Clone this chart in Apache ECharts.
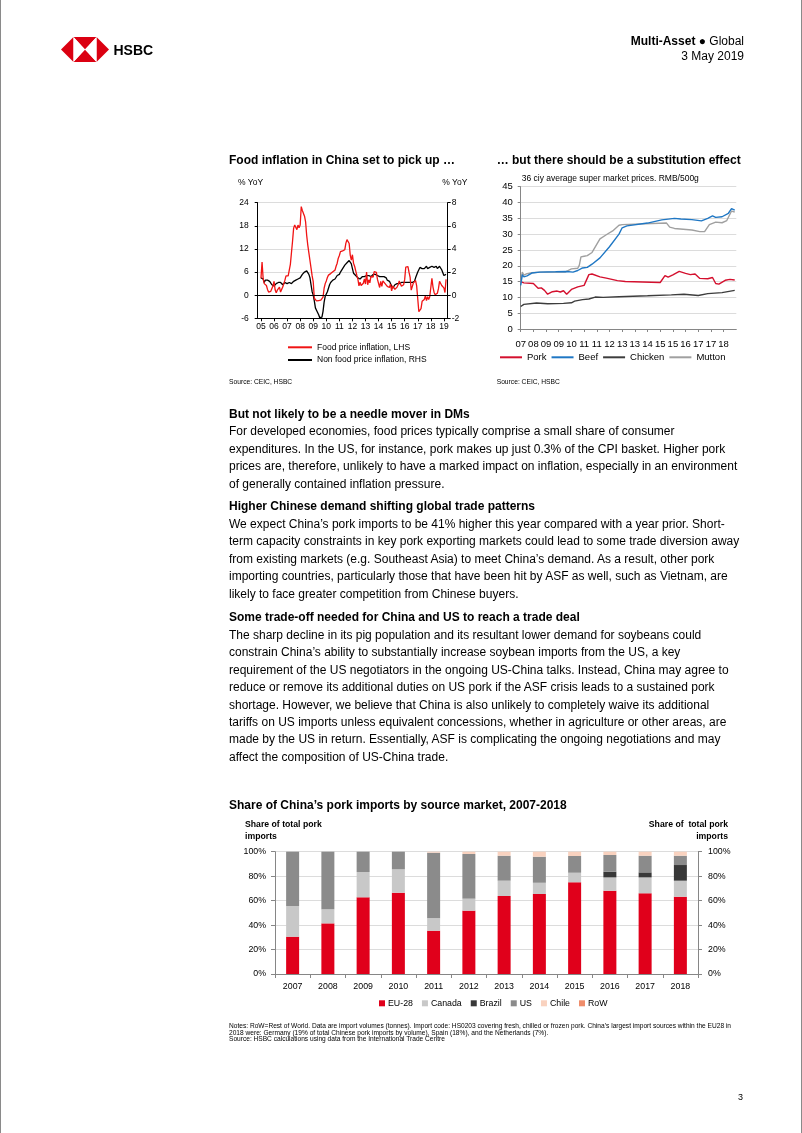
<!DOCTYPE html>
<html><head><meta charset="utf-8">
<script src="https://cdn.jsdelivr.net/npm/echarts@6/dist/echarts.min.js"></script>
<style>
html,body{margin:0;padding:0;background:#fff;}
#page{position:relative;width:802px;height:1133px;overflow:hidden;font-family:Arial,"Liberation Sans",Helvetica,sans-serif;color:#000;background:#fff;}
#chart{position:absolute;left:0;top:0;width:802px;height:1133px;z-index:1;}
.t{position:absolute;white-space:nowrap;z-index:2;}
.body{position:absolute;left:229px;font-size:12px;line-height:17.45px;white-space:nowrap;z-index:2;}
.body b{font-weight:bold;}
.edge{position:absolute;top:0;width:1px;height:1133px;background:#8a8a8a;z-index:3;}
</style></head>
<body>
<div id="page">
<div id="chart"></div>
<div class="edge" style="left:0"></div>
<div class="edge" style="left:801px"></div>
<svg class="t" style="left:60.5px;top:37px" width="48" height="25" viewBox="0 0 48 25">
  <polygon points="0,12.5 12.5,0 12.5,25" fill="#db0011"/>
  <polygon points="48,12.5 35.5,0 35.5,25" fill="#db0011"/>
  <polygon points="12.5,0 35.5,0 24,12.5" fill="#db0011"/>
  <polygon points="12.5,25 35.5,25 24,12.5" fill="#db0011"/>
  <polygon points="12.5,0 24,12.5 12.5,25" fill="#fff"/>
  <polygon points="35.5,0 24,12.5 35.5,25" fill="#fff"/>
</svg>
<div class="t" style="left:113.5px;top:42px;font-size:14px;line-height:16px;font-weight:bold;">HSBC</div>
<div class="t" style="right:58px;top:34px;font-size:12px;line-height:14px;text-align:right;"><b>Multi-Asset</b> ● Global</div>
<div class="t" style="right:58px;top:49px;font-size:12px;line-height:14px;text-align:right;">3 May 2019</div>

<div class="t" style="left:229px;top:153px;font-size:12px;line-height:14px;font-weight:bold;">Food inflation in China set to pick up …</div>
<div class="t" style="left:496.7px;top:153px;font-size:12px;line-height:14px;font-weight:bold;">… but there should be a substitution effect</div>
<div class="t" style="left:238px;top:176.7px;font-size:8.5px;line-height:10px;">% YoY</div>
<div class="t" style="left:442.3px;top:176.7px;font-size:8.5px;line-height:10px;">% YoY</div>
<div class="t" style="left:521.7px;top:173.3px;font-size:8.5px;line-height:10px;">36 ciy average super market prices. RMB/500g</div>
<div class="t" style="left:229px;top:377.7px;font-size:6.7px;line-height:8px;">Source: CEIC, HSBC</div>
<div class="t" style="left:496.7px;top:377.7px;font-size:6.7px;line-height:8px;">Source: CEIC, HSBC</div>

<div class="body" style="top:405.8px;">
<div><b>But not likely to be a needle mover in DMs</b></div>
<div>For developed economies, food prices typically comprise a small share of consumer</div>
<div>expenditures. In the US, for instance, pork makes up just 0.3% of the CPI basket. Higher pork</div>
<div>prices are, therefore, unlikely to have a marked impact on inflation, especially in an environment</div>
<div>of generally contained inflation pressure.</div>
</div>
<div class="body" style="top:498.3px;">
<div><b>Higher Chinese demand shifting global trade patterns</b></div>
<div>We expect China’s pork imports to be 41% higher this year compared with a year prior. Short-</div>
<div>term capacity constraints in key pork exporting markets could lead to some trade diversion away</div>
<div>from existing markets (e.g. Southeast Asia) to meet China’s demand. As a result, other pork</div>
<div>importing countries, particularly those that have been hit by ASF as well, such as Vietnam, are</div>
<div>likely to face greater competition from Chinese buyers.</div>
</div>
<div class="body" style="top:609.3px;">
<div><b>Some trade-off needed for China and US to reach a trade deal</b></div>
<div>The sharp decline in its pig population and its resultant lower demand for soybeans could</div>
<div>constrain China’s ability to substantially increase soybean imports from the US, a key</div>
<div>requirement of the US negotiators in the ongoing US-China talks. Instead, China may agree to</div>
<div>reduce or remove its additional duties on US pork if the ASF crisis leads to a sustained pork</div>
<div>shortage. However, we believe that China is also unlikely to completely waive its additional</div>
<div>tariffs on US imports unless equivalent concessions, whether in agriculture or other areas, are</div>
<div>made by the US in return. Essentially, ASF is complicating the ongoing negotiations and may</div>
<div>affect the composition of US-China trade.</div>
</div>

<div class="t" style="left:229px;top:798px;font-size:12px;line-height:14px;font-weight:bold;">Share of China’s pork imports by source market, 2007-2018</div>
<div class="t" style="left:245px;top:819.2px;font-size:8.7px;line-height:11.7px;font-weight:bold;">Share of total pork<br>imports</div>
<div class="t" style="right:74px;top:819.2px;font-size:8.7px;line-height:11.7px;font-weight:bold;text-align:right;white-space:pre;">Share of  total pork<br>imports</div>
<div class="t" style="left:229px;top:1023.4px;font-size:6.6px;line-height:6.4px;">Notes: RoW=Rest of World. Data are import volumes (tonnes). Import code: HS0203 covering fresh, chilled or frozen pork. China’s largest import sources within the EU28 in<br>2018 were: Germany (19% of total Chinese pork imports by volume), Spain (18%), and the Netherlands (7%).<br>Source: HSBC calculations using data from the International Trade Centre</div>
<div class="t" style="left:738px;top:1091.5px;font-size:9px;line-height:11px;">3</div>
</div>
<script>
// ---------- Chart 1: Food vs non-food inflation (monthly, Jan 2005 - Mar 2019) ----------
const inflationYearLabels = ['05','06','07','08','09','10','11','12','13','14','15','16','17','18','19'];
const foodInflation = [
  4.4, 8.6, 4.4, 3.0, 2.7, 2.5, 1.5, 0.8, 0.5, 1.0, 1.5, 2.4,
  3.6, 1.4, 0.6, 1.3, 1.6, 2.1, 0.8, 1.5, 2.1, 2.6, 3.9, 5.0,
  4.5, 5.0, 5.5, 8.0, 11.0, 14.0, 17.4, 18.2, 18.0, 17.0, 18.2, 17.5,
  18.2, 23.0, 22.0, 21.8, 20.5, 19.0, 15.5, 13.0, 11.0, 9.0, 7.0, 5.0,
  3.5, -0.8, -1.3, -1.5, -1.5, -1.4, -1.5, -1.3, -1.2, -0.5, 1.8, 3.0,
  3.7, 4.6, 5.2, 5.0, 5.6, 5.4, 6.1, 6.0, 6.5, 7.5, 8.3, 9.6,
  10.3, 11.3, 11.7, 11.5, 12.0, 11.8, 13.5, 14.4, 14.8, 13.4, 10.4, 9.1,
  10.5, 8.3, 7.5, 7.0, 5.2, 4.2, 2.4, 3.4, 2.5, 2.5, 3.1, 4.2,
  2.9, 6.0, 2.7, 4.0, 3.2, 4.9, 5.0, 4.7, 6.1, 6.5, 5.9, 4.1,
  3.7, 2.0, 3.6, 2.3, 3.7, 3.7, 3.0, 3.0, 2.3, 2.2, 2.0, 2.9,
  1.1, 2.4, 2.3, 1.5, 1.6, 2.1, 2.7, 3.7, 3.7, 2.3, 2.5, 2.7,
  4.1, 7.3, 7.6, 7.4, 5.9, 4.6, 1.3, 1.3, 3.2, 3.7, 3.8, 2.4,
  2.7, -4.3, -4.4, -3.5, -1.6, -1.2, -1.1, -0.2, -1.4, -0.4, -1.1, -0.4,
  0.0, 4.4, 2.1, 0.7, 0.1, 0.3, 0.5, 1.7, 3.6, 3.3, 2.5, 2.5,
  1.9, 0.7, 4.1
];
const nonFoodInflation = [
  1.5, 1.6, 1.4, 1.1, 1.3, 1.3, 1.3, 1.3, 1.2, 1.1, 0.9, 0.8,
  0.8, 0.9, 1.0, 1.0, 1.1, 1.0, 1.1, 1.0, 0.9, 1.0, 1.1, 1.0,
  1.0, 1.0, 1.1, 1.1, 1.0, 1.1, 1.2, 1.2, 1.3, 1.3, 1.4, 1.5,
  1.5, 1.6, 1.8, 1.9, 2.0, 2.1, 2.1, 2.0, 1.8, 1.5, 0.9, 0.3,
  0.0, -0.5, -1.1, -1.3, -1.5, -1.7, -1.95, -2.0, -1.9, -1.4, -0.6, -0.1,
  0.1, 0.3, 0.6, 0.9, 1.1, 1.2, 1.3, 1.3, 1.4, 1.5, 1.7, 1.7,
  1.8, 2.0, 2.1, 2.3, 2.4, 2.6, 2.7, 2.8, 2.9, 3.0, 2.9, 2.7,
  2.3, 1.9, 1.8, 1.7, 1.6, 1.5, 1.5, 1.4, 1.5, 1.6, 1.7, 1.6,
  1.6, 1.7, 1.8, 1.7, 1.6, 1.6, 1.7, 1.8, 1.8, 1.8, 1.7, 1.7,
  1.7, 1.6, 1.7, 1.6, 1.5, 1.6, 1.6, 1.5, 1.3, 1.3, 1.2, 1.1,
  0.8, 0.6, 0.7, 0.9, 0.9, 1.0, 1.0, 1.0, 1.1, 1.1, 1.0, 1.1,
  1.1, 1.1, 1.0, 1.1, 1.2, 1.1, 1.1, 1.1, 1.2, 1.2, 1.5, 1.6,
  2.0, 2.2, 2.4, 2.4, 2.3, 2.3, 2.3, 2.4, 2.5, 2.3, 2.4, 2.4,
  2.3, 2.5, 2.5, 2.4, 2.4, 2.5, 2.3, 2.4, 2.5, 2.4, 2.2, 2.2,
  1.7, 1.7, 1.8
];

// ---------- Chart 2: meat prices (x = months since Jan 2007) ----------
const meatTickLabels = ['07','08','09','09','10','11','11','12','13','13','14','15','15','16','17','17','18'];
const porkMonths = [8,10,16,19,21,23,25,26,28,31,33,35,37,38,40,44,48,49,51,53,58,62,69,74,96,99,101,104,108,112,115,118,121,126,129,131,133,137,140,143];
const porkPrice  = [15.0,14.6,14.4,12.9,13.0,12.2,11.0,10.7,11.8,12.0,11.7,12.1,11.0,10.8,12.5,13.3,13.8,14.3,17.2,17.4,16.5,16.1,15.3,15.0,14.7,16.9,16.4,17.1,18.2,17.6,17.2,17.4,16.0,15.9,16.3,14.4,14.2,15.4,15.7,15.5];
const beefMonths = [8,9,10,12,15,20,30,37,41,44,47,50,53,58,64,70,72,75,88,97,105,109,116,122,126,129,131,135,139,141,143];
const beefPrice  = [13.8,17.2,16.5,16.8,17.7,18.0,18.1,18.2,18.0,18.5,19.3,19.5,20.5,22.5,26.0,30.0,32.0,32.6,33.5,34.5,35.0,34.8,34.6,34.2,35.0,35.8,35.3,35.5,36.6,38.1,37.6];
const chickenMonths = [8,10,18,25,35,40,42,47,51,55,60,70,88,103,111,120,126,135,143];
const chickenPrice  = [7.1,7.8,8.2,8.0,8.1,8.3,8.8,9.3,9.5,10.1,10.0,10.2,10.5,10.8,11.0,10.6,11.2,11.5,12.2];
const muttonMonths = [8,9,10,12,15,20,36,37,40,44,45,46,48,50,53,58,62,66,70,72,100,102,105,116,121,124,127,131,135,138,141,143];
const muttonPrice  = [14.3,18.0,17.0,17.5,17.8,18.0,18.0,18.6,19.0,19.2,20.2,22.8,23.0,23.2,24.2,28.5,29.8,31.0,32.8,33.0,33.5,32.2,31.8,31.3,30.8,30.8,33.0,33.8,33.6,34.3,37.3,37.0];

// ---------- Chart 3: pork import shares ----------
const importYears = ['2007','2008','2009','2010','2011','2012','2013','2014','2015','2016','2017','2018'];
const shareEU28   = [30.5,41.4,62.7,66.5,35.4,51.8,63.8,65.4,75.0,68.1,66.0,63.2];
const shareCanada = [25.1,11.5,20.7,19.1,10.1,9.8,12.5,9.2,7.8,10.9,13.0,13.1];
const shareBrazil = [0,0,0,0,0,0,0,0,0,4.6,4.1,12.8];
const shareUS     = [44.4,47.1,16.6,14.4,53.7,36.5,20.4,21.3,13.7,13.7,13.6,7.6];
const shareChile  = [0,0,0,0,0.8,1.9,3.3,4.1,3.5,2.7,3.3,3.3];
const shareRoW    = [0,0,0,0,0,0,0,0,0,0,0,0];
const percentTicks = [0,20,40,60,80,100];

const pair = (xs, ys) => xs.map((x, i) => [x, ys[i]]);
const FONT = 'Arial, "Liberation Sans", sans-serif';
const txt = (size) => ({ fontSize: size, color: '#000', fontFamily: FONT });

const chart = echarts.init(document.getElementById('chart'), null, { renderer: 'canvas' });
const yearTicks = inflationYearLabels.map((_, i) => i * 12);
const meatTicks = meatTickLabels.map((_, i) => 8 + i * 8);

const option = {
  animation: false,
  backgroundColor: 'transparent',
  grid: [
    { left: 257.7, top: 202.7, width: 190, height: 115.6 },
    { left: 520.7, top: 186.7, width: 215.6, height: 142.3 },
    { left: 275, top: 851.7, width: 423, height: 122.3 }
  ],
  xAxis: [
    { type: 'value', gridIndex: 0, min: -3, max: 171.5,
      axisLine: { show: true, onZero: false, lineStyle: { color: '#000', width: 1 } },
      axisTick: { show: true, customValues: yearTicks, length: 3, lineStyle: { color: '#000' } },
      axisLabel: { customValues: yearTicks, margin: 4, ...txt(8.5), formatter: v => inflationYearLabels[Math.round(v / 12)] },
      splitLine: { show: false } },
    { type: 'value', gridIndex: 1, min: 8, max: 144,
      axisLine: { show: true, onZero: false, lineStyle: { color: '#868686', width: 1 } },
      axisTick: { show: true, customValues: meatTicks, length: 3, lineStyle: { color: '#868686' } },
      axisLabel: { customValues: meatTicks, margin: 10, ...txt(9.5), formatter: v => meatTickLabels[Math.round((v - 8) / 8)] },
      splitLine: { show: false } },
    { type: 'category', gridIndex: 2, data: importYears, boundaryGap: true,
      axisLine: { show: true, lineStyle: { color: '#868686', width: 1 } },
      axisTick: { show: true, alignWithLabel: false, length: 4, lineStyle: { color: '#868686' } },
      axisLabel: { margin: 8, ...txt(8.8), interval: 0 } }
  ],
  yAxis: [
    { type: 'value', gridIndex: 0, min: -6, max: 24, interval: 6, position: 'left',
      axisLine: { show: true, onZero: false, lineStyle: { color: '#000', width: 1 } },
      axisTick: { show: true, length: 3, lineStyle: { color: '#000' } },
      axisLabel: { margin: 9, ...txt(8.5) },
      splitLine: { show: true, lineStyle: { color: '#dcdcdc', width: 1 } } },
    { type: 'value', gridIndex: 0, min: -2, max: 8, interval: 2, position: 'right',
      axisLine: { show: true, onZero: false, lineStyle: { color: '#000', width: 1 } },
      axisTick: { show: true, length: 3, lineStyle: { color: '#000' } },
      axisLabel: { margin: 4, ...txt(8.5) },
      splitLine: { show: false } },
    { type: 'value', gridIndex: 1, min: 0, max: 45, interval: 5,
      axisLine: { show: true, lineStyle: { color: '#868686', width: 1 } },
      axisTick: { show: true, length: 3, lineStyle: { color: '#868686' } },
      axisLabel: { margin: 8, ...txt(9.5) },
      splitLine: { show: true, lineStyle: { color: '#dcdcdc', width: 1 } } },
    { type: 'value', gridIndex: 2, min: 0, max: 100, interval: 20, position: 'left',
      axisLine: { show: true, lineStyle: { color: '#868686', width: 1 } },
      axisTick: { show: true, length: 4, lineStyle: { color: '#868686' } },
      axisLabel: { margin: 9, ...txt(8.8), formatter: '{value}%' },
      splitLine: { show: true, lineStyle: { color: '#dcdcdc', width: 1 } } },
    { type: 'value', gridIndex: 2, min: 0, max: 100, interval: 20, position: 'right',
      axisLine: { show: true, lineStyle: { color: '#868686', width: 1 } },
      axisTick: { show: true, length: 4, lineStyle: { color: '#868686' } },
      axisLabel: { margin: 10, ...txt(8.8), formatter: '{value}%' },
      splitLine: { show: false } }
  ],
  legend: [
    { data: ['Food price inflation, LHS', 'Non food price inflation, RHS'], orient: 'vertical',
      left: 288, top: 342.3, itemWidth: 24, itemHeight: 2, icon: 'rect', itemGap: 2.7,
      padding: 0, textStyle: { ...txt(8.5), lineHeight: 10 } },
    { data: ['Pork', 'Beef', 'Chicken', 'Mutton'], orient: 'horizontal',
      left: 500, top: 351.8, itemWidth: 22, itemHeight: 2, icon: 'rect', itemGap: 5,
      padding: 0, textStyle: { ...txt(9.5), lineHeight: 11 } },
    { data: ['EU-28', 'Canada', 'Brazil', 'US', 'Chile', 'RoW'], orient: 'horizontal',
      left: 379, top: 998.3, itemWidth: 6, itemHeight: 6, icon: 'rect', itemGap: 9,
      padding: 0, textStyle: { ...txt(8.8), lineHeight: 10, padding: [0, 0, 0, -2] } }
  ],
  series: [
    { name: 'Food price inflation, LHS', type: 'line', xAxisIndex: 0, yAxisIndex: 0,
      data: foodInflation.map((v, i) => [i, v]), symbol: 'none', z: 4,
      lineStyle: { color: '#f01414', width: 1.3 }, itemStyle: { color: '#f01414' },
      markLine: { silent: true, symbol: ['none', 'none'], label: { show: false },
        lineStyle: { color: '#000', width: 1, type: 'solid' }, data: [{ yAxis: 0 }] } },
    { name: 'Non food price inflation, RHS', type: 'line', xAxisIndex: 0, yAxisIndex: 1,
      data: nonFoodInflation.map((v, i) => [i, v]), symbol: 'none', z: 3,
      lineStyle: { color: '#000', width: 1.3 }, itemStyle: { color: '#000' } },

    { name: 'Pork', type: 'line', xAxisIndex: 1, yAxisIndex: 2, data: pair(porkMonths, porkPrice),
      symbol: 'none', lineStyle: { color: '#d4102e', width: 1.4 }, itemStyle: { color: '#d4102e' } },
    { name: 'Beef', type: 'line', xAxisIndex: 1, yAxisIndex: 2, data: pair(beefMonths, beefPrice),
      symbol: 'none', z: 3, lineStyle: { color: '#1f77c4', width: 1.4 }, itemStyle: { color: '#1f77c4' } },
    { name: 'Chicken', type: 'line', xAxisIndex: 1, yAxisIndex: 2, data: pair(chickenMonths, chickenPrice),
      symbol: 'none', lineStyle: { color: '#3d3d3d', width: 1.4 }, itemStyle: { color: '#3d3d3d' } },
    { name: 'Mutton', type: 'line', xAxisIndex: 1, yAxisIndex: 2, data: pair(muttonMonths, muttonPrice),
      symbol: 'none', z: 2, lineStyle: { color: '#a0a0a0', width: 1.4 }, itemStyle: { color: '#a0a0a0' } },

    ...[
      ['EU-28', shareEU28, '#e0001b'],
      ['Canada', shareCanada, '#c8c8c8'],
      ['Brazil', shareBrazil, '#383838'],
      ['US', shareUS, '#8b8b8b'],
      ['Chile', shareChile, '#f9d2bf'],
      ['RoW', shareRoW, '#ef8d6b']
    ].map(([name, vals, color]) => ({
      name, type: 'bar', stack: 'share', xAxisIndex: 2, yAxisIndex: 3, data: vals,
      barWidth: 13, itemStyle: { color }
    }))
  ]
};
chart.setOption(option);
</script>
</body></html>
